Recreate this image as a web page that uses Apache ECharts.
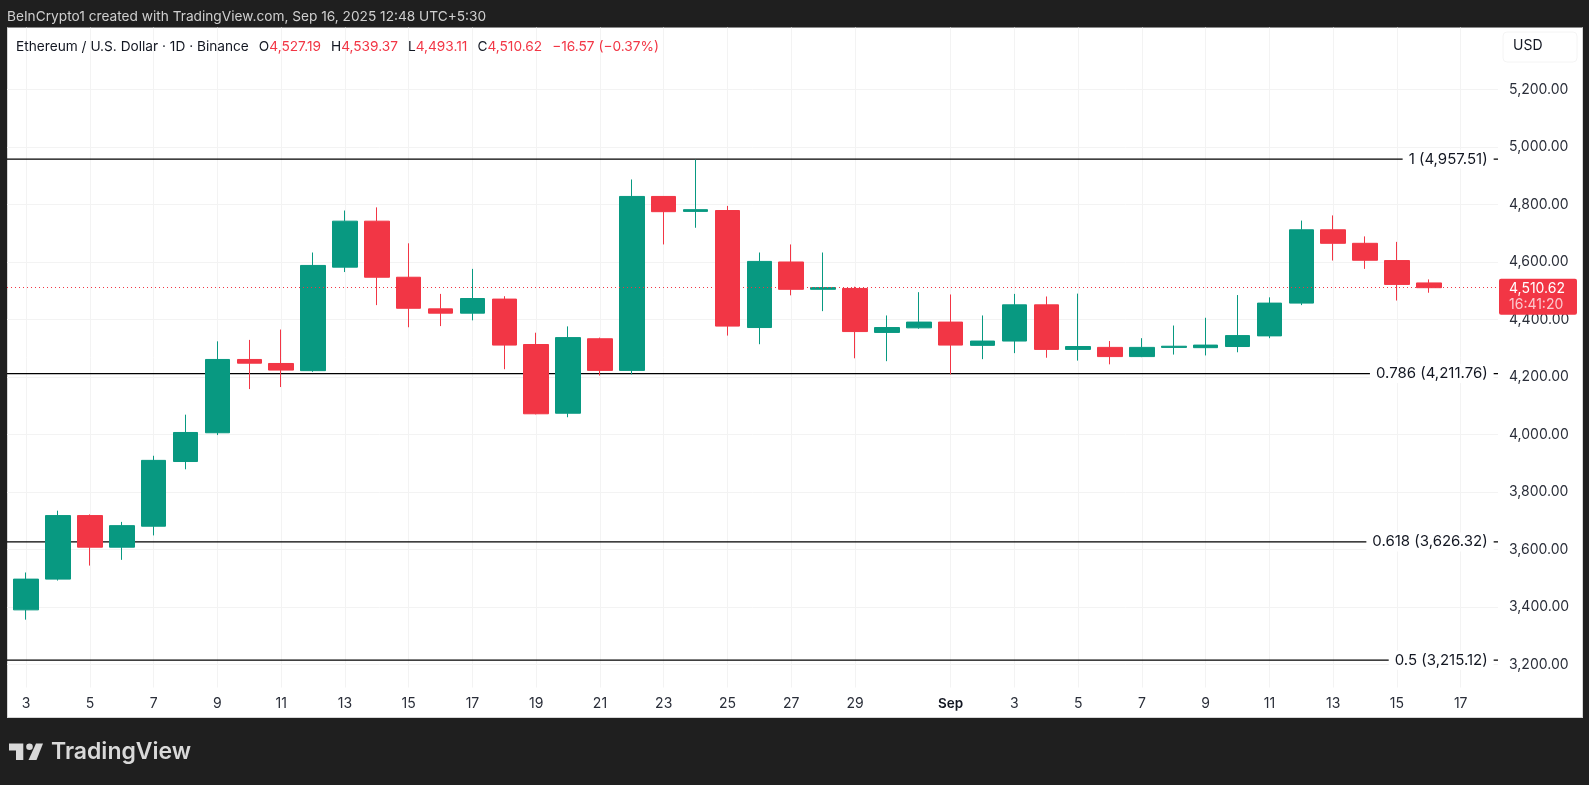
<!DOCTYPE html>
<html>
<head>
<meta charset="utf-8">
<title>ETH / USD</title>
<script src="https://cdn.jsdelivr.net/npm/echarts@6/dist/echarts.min.js"></script>
<style>
    html, body { margin: 0; padding: 0; background: #1f1f1f; overflow: hidden; }
    #panel { position: absolute; left: 7px; top: 27px; width: 1574px; height: 689px; background: #fff; border: 1px solid #d6d6d6; border-top-color: #8a8a8a; }
    #chartArea { position: absolute; left: 0; top: 0; width: 1589px; height: 785px; }
</style>
</head>
<body>
<div id="panel"></div>
<div id="chartArea"></div>
<script>
// daily candles, Aug 3 to Sep 16 2025
let days = ['Aug 3', 'Aug 4', 'Aug 5', 'Aug 6', 'Aug 7', 'Aug 8', 'Aug 9', 'Aug 10', 'Aug 11', 'Aug 12', 'Aug 13', 'Aug 14', 'Aug 15', 'Aug 16', 'Aug 17',
    'Aug 18', 'Aug 19', 'Aug 20', 'Aug 21', 'Aug 22', 'Aug 23', 'Aug 24', 'Aug 25', 'Aug 26', 'Aug 27', 'Aug 28', 'Aug 29', 'Aug 30', 'Aug 31',
    'Sep 1', 'Sep 2', 'Sep 3', 'Sep 4', 'Sep 5', 'Sep 6', 'Sep 7', 'Sep 8', 'Sep 9', 'Sep 10', 'Sep 11', 'Sep 12', 'Sep 13', 'Sep 14', 'Sep 15', 'Sep 16'];
let opens = [3390, 3497, 3718, 3608, 3681, 3906, 4006, 4261, 4247, 4222, 4582, 4742, 4547, 4437, 4422,
    4471, 4313, 4074, 4333, 4223, 4828, 4776, 4779, 4372, 4600, 4505, 4508, 4355, 4371,
    4391, 4310, 4325, 4451, 4296, 4303, 4271, 4303, 4302, 4306, 4343, 4457, 4712, 4665, 4605, 4527.19];
let closes = [3497, 3718, 3608, 3683, 3910, 4007, 4261, 4248, 4224, 4588, 4742, 4547, 4439, 4422, 4473,
    4311, 4072, 4337, 4223, 4828, 4775, 4782, 4377, 4602, 4505, 4511, 4358, 4372, 4391,
    4311, 4325, 4451, 4296, 4306, 4271, 4303, 4307, 4311, 4344, 4457, 4712, 4665, 4606, 4522, 4510.62];
let lows = [3356, 3492, 3544, 3564, 3649, 3879, 3998, 4158, 4165, 4218, 4565, 4450, 4373, 4377, 4397,
    4227, 4070, 4060, 4205, 4209, 4661, 4719, 4344, 4314, 4484, 4429, 4265, 4255, 4368,
    4209, 4262, 4283, 4267, 4257, 4244, 4269, 4278, 4275, 4286, 4335, 4450, 4605, 4576, 4466, 4493.11];
let highs = [3520, 3735, 3722, 3696, 3926, 4069, 4324, 4329, 4365, 4633, 4779, 4790, 4665, 4489, 4576,
    4481, 4354, 4376, 4337, 4887, 4829, 4956, 4795, 4633, 4661, 4633, 4514, 4414, 4495,
    4487, 4414, 4489, 4480, 4490, 4325, 4335, 4379, 4406, 4485, 4477, 4744, 4762, 4689, 4670, 4539.37];

// fib retracement levels
let fibLevels = [4957.51, 4211.76, 3626.32, 3215.12];
let fibLabels = ['1 (4,957.51)', '0.786 (4,211.76)', '0.618 (3,626.32)', '0.5 (3,215.12)'];

let lastPrice = 4510.62;

let xTicks = [0, 2, 4, 6, 8, 10, 12, 14, 16, 18, 20, 22, 24, 26, 29, 31, 33, 35, 37, 39, 41, 43, 45];
let xTickLabels = ['3', '5', '7', '9', '11', '13', '15', '17', '19', '21', '23', '25', '27', '29', 'Sep', '3', '5', '7', '9', '11', '13', '15', '17'];
let yTicks = [3200, 3400, 3600, 3800, 4000, 4200, 4400, 4600, 4800, 5000, 5200];

let upColor = '#089981';
let downColor = '#F23645';
let fontName = 'Inter';
let xMin = -0.6;
let xMax = 46.17;
let fibLabelDay = 46.05;

function money(v) {
    return v.toFixed(2).replace(/\B(?=(\d{3})+(?!\d))/g, ',');
}

let myChart = echarts.init(document.getElementById('chartArea'), null, {renderer: 'canvas'});

let candleData = [];
for (let i = 0; i < days.length; i++) {
    candleData.push([i, opens[i], closes[i], lows[i], highs[i]]);
}

let fibSeries = [];
fibLevels.forEach(function (v, i) {
    fibSeries.push({
        type: 'line',
        z: 1,
        silent: true,
        animation: false,
        showSymbol: false,
        symbol: 'none',
        lineStyle: {color: '#000', width: 1.2},
        data: [[xMin, v], [xMax, v]]
    });
    fibSeries.push({
        type: 'scatter',
        z: 1,
        silent: true,
        animation: false,
        symbolSize: 1,
        itemStyle: {color: 'transparent', opacity: 1},
        label: {
            show: true,
            position: 'left',
            distance: 0,
            formatter: fibLabels[i],
            color: '#131722',
            opacity: 1,
            fontFamily: fontName,
            fontSize: 15,
            backgroundColor: '#fff',
            padding: [2, 6]
        },
        data: [[fibLabelDay, v]]
    });
});

let legendRich = {
    k: {color: '#131722', fontFamily: fontName, fontSize: 13.7},
    r: {color: downColor, fontFamily: fontName, fontSize: 13.7}
};

let option = {
    animation: false,
    backgroundColor: 'transparent',
    title: [
        {
            text: 'BeInCrypto1 created with TradingView.com, Sep 16, 2025 12:48 UTC+5:30',
            left: 2,
            top: 5,
            textStyle: {color: '#cfcfcf', fontFamily: fontName, fontSize: 13.7, fontWeight: 'normal'}
        },
        {
            text: '{k|Ethereum / U.S. Dollar · 1D · Binance}  {k|O}{r|4,527.19}  {k|H}{r|4,539.37}  {k|L}{r|4,493.11}  {k|C}{r|4,510.62}  {r|−16.57 (−0.37%)}',
            left: 11,
            top: 33,
            textStyle: {rich: legendRich, fontWeight: 'normal'}
        }
    ],
    grid: {left: 7, right: 91, top: 27.5, height: 660},
    xAxis: {
        type: 'value',
        min: xMin,
        max: xMax,
        axisLine: {show: false},
        axisTick: {show: false, customValues: xTicks},
        splitLine: {show: true, lineStyle: {color: '#f3f3f3', width: 1}},
        axisLabel: {
            customValues: xTicks,
            margin: 9,
            color: '#2a2e39',
            fontFamily: fontName,
            fontSize: 14,
            hideOverlap: false,
            showMinLabel: true,
            showMaxLabel: true,
            formatter: function (v) {
                let s = xTickLabels[xTicks.indexOf(v)];
                return s === 'Sep' ? '{b|Sep}' : s;
            },
            rich: {b: {fontWeight: 600, fontFamily: fontName, fontSize: 13.5, color: '#131722'}}
        }
    },
    yAxis: {
        type: 'value',
        position: 'right',
        min: 3120,
        max: 5415.6,
        axisLine: {show: false},
        axisTick: {show: false, customValues: yTicks},
        splitLine: {show: true, lineStyle: {color: '#f3f3f3', width: 1}},
        axisLabel: {
            customValues: yTicks,
            margin: 11,
            color: '#2a2e39',
            fontFamily: fontName,
            fontSize: 14,
            formatter: function (v) {
                return money(v);
            }
        }
    },
    graphic: [
        // USD box
        {
            type: 'rect',
            shape: {x: 1503, y: 32, width: 74, height: 30, r: 4},
            style: {fill: '#fff', stroke: '#f4f4f4', lineWidth: 1}
        },
        {
            type: 'text',
            x: 1513,
            y: 46,
            style: {text: 'USD', fill: '#131722', font: '14px Inter', textVerticalAlign: 'middle'}
        },
        // TradingView logo
        {
            type: 'polygon',
            shape: {points: [[9, 743.5], [23.3, 743.5], [23.3, 760], [16, 760], [16, 750.5], [9, 750.5]]},
            style: {fill: '#d9d9d9'}
        },
        {
            type: 'circle',
            shape: {cx: 29.5, cy: 746.8, r: 3.3},
            style: {fill: '#d9d9d9'}
        },
        {
            type: 'polygon',
            shape: {points: [[36, 743.5], [43, 743.5], [36.5, 760], [28.5, 760]]},
            style: {fill: '#d9d9d9'}
        },
        {
            type: 'text',
            x: 51,
            y: 752,
            style: {text: 'TradingView', fill: '#d9d9d9', font: '600 23px Inter', textVerticalAlign: 'middle'}
        }
    ],
    series: [
        {
            type: 'candlestick',
            name: 'ETHUSD',
            z: 2,
            silent: true,
            animation: false,
            clip: false,
            barWidth: 25,
            encode: {x: 0, y: [1, 2, 3, 4]},
            itemStyle: {
                color: upColor,
                color0: downColor,
                borderColor: upColor,
                borderColor0: downColor,
                borderWidth: 1
            },
            data: candleData,
            markLine: {
                silent: true,
                animation: false,
                symbol: 'none',
                lineStyle: {color: downColor, type: [1, 3], width: 1},
                label: {
                    show: true,
                    position: 'end',
                    distance: 1,
                    verticalAlign: 'top',
                    offset: [0, -9],
                    formatter: function () {
                        return '{p|' + money(lastPrice) + '}\n{t|16:41:20}';
                    },
                    backgroundColor: downColor,
                    borderRadius: 2,
                    padding: [2, 12, 2, 10],
                    rich: {
                        p: {color: '#fff', fontFamily: fontName, fontSize: 14, lineHeight: 16},
                        t: {color: '#fbc9ce', fontFamily: fontName, fontSize: 14, lineHeight: 16}
                    }
                },
                data: [{yAxis: lastPrice}]
            }
        }
    ].concat(fibSeries)
};

myChart.setOption(option);
</script>
</body>
</html>
